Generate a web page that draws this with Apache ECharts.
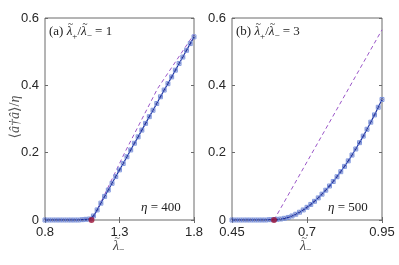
<!DOCTYPE html>
<html><head><meta charset="utf-8">
<script src="https://cdn.jsdelivr.net/npm/echarts@6/dist/echarts.min.js"></script>
<style>html,body{margin:0;padding:0;background:#fff}#c{width:399px;height:265px}</style>
</head><body><div id="c"></div>
<script>
// Panel (a)
const lambdaA = [0.8,0.825,0.85,0.875,0.9,0.925,0.95,0.975,1.0,1.025,1.05,1.075,1.1,
  1.125,1.15,1.175,1.2,1.225,1.25,1.275,1.3,1.325,1.35,1.375,1.4,1.425,1.45,1.475,1.5,
  1.525,1.55,1.575,1.6,1.625,1.65,1.675,1.7,1.725,1.75,1.775,1.8];
const valuesA = [0,0,0,0,0,0,0,0,0,0,0.001,0.002,0.003,
  0.012,0.030,0.050,0.070,0.089,0.109,0.129,0.149,0.168,0.188,0.208,0.228,0.247,0.267,0.287,0.307,
  0.326,0.346,0.366,0.386,0.405,0.425,0.445,0.465,0.484,0.504,0.524,0.544];
const dashLambdaA = [1.118,1.335,1.555,1.8];
const dashValuesA = [0,0.2,0.39,0.552];
const critA = [1.112, 0];
// Panel (b)
const lambdaB = [0.45,0.4625,0.475,0.4875,0.5,0.5125,0.525,0.5375,0.55,0.5625,0.575,0.5875,
  0.6,0.6125,0.625,0.6375,0.65,0.6625,0.675,0.6875,0.7,0.7125,0.725,0.7375,0.75,0.7625,0.775,
  0.7875,0.8,0.8125,0.825,0.8375,0.85,0.8625,0.875,0.8875,0.9,0.9125,0.925,0.9375,0.95];
const valuesB = [0,0,0,0,0,0,0,0,0,0,0.001,0.001,
  0.002,0.003,0.005,0.0076,0.0119,0.017,0.0231,0.0299,0.0376,0.0462,0.0555,0.0657,0.0767,0.0885,0.101,
  0.1144,0.1286,0.1435,0.1592,0.1757,0.1929,0.2109,0.2297,0.2492,0.2695,0.2905,0.3122,0.3348,0.358];
const dashLambdaB = [0.59,0.95];
const dashValuesB = [0,0.565];
const critB = [0.59, 0];
// Ticks
const xTicksA = [0.8,1.3,1.8];
const xTicksB = [0.45,0.7,0.95];
const yTicks = [0,0.2,0.4,0.6];

const zip = (xs, ys) => xs.map((x,i)=>[x, ys[i]]);
const chart = echarts.init(document.getElementById('c'), null, {renderer:'canvas'});
const frame = '#6a6a6a';
const lblFont = {fontFamily:'Liberation Sans, Arial, sans-serif', fontSize:13, color:'#262626'};
const serif = 'Liberation Serif, DejaVu Serif, serif';

const mctx = document.createElement('canvas').getContext('2d');
function tw(s, f){ mctx.font = f; return mctx.measureText(s).width; }
function buildText(x, yc, parts, size, color){
  const els = []; let cx = x;
  for (const p of parts){
    if (typeof p === 'string' || p.t !== undefined){
      const s = typeof p === 'string' ? p : p.t;
      const f = (p.italic ? 'italic ' : '') + size + 'px ' + serif;
      els.push({type:'text', x:cx, y:yc, style:{text:s, font:f, fill:color, verticalAlign:'middle'}});
      cx += tw(s, f);
    } else {
      const f = 'italic ' + size + 'px ' + serif;
      const w = tw('λ', f);
      els.push({type:'text', x:cx, y:yc, style:{text:'λ', font:f, fill:color, verticalAlign:'middle'}});
      els.push({type:'text', x:cx + w*0.5 + size*0.08, y:yc - size*0.57, style:{text:'~', font:(size*0.72)+'px '+serif, fill:color, align:'center', verticalAlign:'middle'}});
      const sf = (size*0.7) + 'px ' + serif;
      els.push({type:'text', x:cx + w, y:yc + size*0.32, style:{text:p.lam, font:sf, fill:color, verticalAlign:'middle'}});
      cx += w + tw(p.lam, sf);
    }
  }
  return {els, width: cx - x};
}

function xAxes(gi, ticks){
  return [
    {type:'value', gridIndex:gi, min:ticks[0], max:ticks[ticks.length-1], position:'bottom',
     axisLine:{show:false}, splitLine:{show:false},
     axisTick:{show:true, inside:true, length:3, lineStyle:{color:frame}, customValues:ticks},
     axisLabel:Object.assign({show:true, margin:6, customValues:ticks, formatter:v=>String(v)}, lblFont)},
    {type:'value', gridIndex:gi, min:ticks[0], max:ticks[ticks.length-1], position:'top',
     axisLine:{show:false}, splitLine:{show:false}, axisLabel:{show:false},
     axisTick:{show:true, inside:true, length:3, lineStyle:{color:frame}, customValues:ticks}}
  ];
}
function yAxes(gi){
  return [
    {type:'value', gridIndex:gi, min:0, max:0.6, interval:0.2, position:'left',
     axisLine:{show:false}, splitLine:{show:false},
     axisTick:{show:true, inside:true, length:3, lineStyle:{color:frame}},
     axisLabel:Object.assign({show:true, margin:6, customValues:yTicks, formatter:v=>String(v)}, lblFont)},
    {type:'value', gridIndex:gi, min:0, max:0.6, interval:0.2, position:'right',
     axisLine:{show:false}, splitLine:{show:false}, axisLabel:{show:false},
     axisTick:{show:true, inside:true, length:3, lineStyle:{color:frame}}}
  ];
}
function panelSeries(xi, yi, lam, val, dl, dv, crit){
  return [
    {type:'line', xAxisIndex:xi, yAxisIndex:yi, data:zip(dl,dv), showSymbol:false, silent:true,
     lineStyle:{color:'#9a56c8', width:1, type:[4,3]}, z:2},
    {type:'line', xAxisIndex:xi, yAxisIndex:yi, data:zip(lam,val), symbol:'rect', symbolSize:4,
     showSymbol:true, itemStyle:{color:'rgba(255,255,255,0)', borderColor:'#7b93dc', borderWidth:0.9},
     lineStyle:{color:'#1c2e9c', width:1.2}, z:3},
    {type:'scatter', xAxisIndex:xi, yAxisIndex:yi, data:zip(lam,val), symbol:'circle', symbolSize:2.6,
     itemStyle:{color:'rgba(255,255,255,0)', borderColor:'#23379f', borderWidth:0.7}, z:4},
    {type:'scatter', xAxisIndex:xi, yAxisIndex:yi, data:[crit], symbol:'circle', symbolSize:6,
     itemStyle:{color:'#9c1236'}, z:5}
  ];
}

const tc = '#222';
const lblA = buildText(49, 32, ['(a) ', {lam:'+'}, '/', {lam:'−'}, ' = 1'], 13, tc);
const lblB = buildText(236, 32, ['(b) ', {lam:'+'}, '/', {lam:'−'}, ' = 3'], 13, tc);
const etaA = buildText(141, 208, [{t:'η', italic:true}, ' = 400'], 13, tc);
const etaB = buildText(328, 208, [{t:'η', italic:true}, ' = 500'], 13, tc);
const xnA = buildText(113, 246, [{lam:'−'}], 14, '#444');
const xnB = buildText(300, 246, [{lam:'−'}], 14, '#444');
const yn = buildText(0, 0, ['⟨', {t:'â†â', italic:true}, '⟩/', {t:'η', italic:true}], 14, '#555');

const option = {
  animation:false,
  grid:[
    {left:45, top:18, width:149, height:202, show:true, borderColor:frame, borderWidth:1, backgroundColor:'transparent'},
    {left:232, top:18, width:150, height:202, show:true, borderColor:frame, borderWidth:1, backgroundColor:'transparent'}
  ],
  xAxis:[...xAxes(0,xTicksA), ...xAxes(1,xTicksB)],
  yAxis:[...yAxes(0), ...yAxes(1)],
  series:[...panelSeries(0,0,lambdaA,valuesA,dashLambdaA,dashValuesA,critA),
          ...panelSeries(2,2,lambdaB,valuesB,dashLambdaB,dashValuesB,critB)],
  graphic:[
    ...lblA.els, ...lblB.els, ...etaA.els, ...etaB.els, ...xnA.els, ...xnB.els,
    {type:'group', x:15, y:117 + yn.width/2, rotation:Math.PI/2, children: yn.els}
  ]
};
chart.setOption(option);
</script></body></html>
